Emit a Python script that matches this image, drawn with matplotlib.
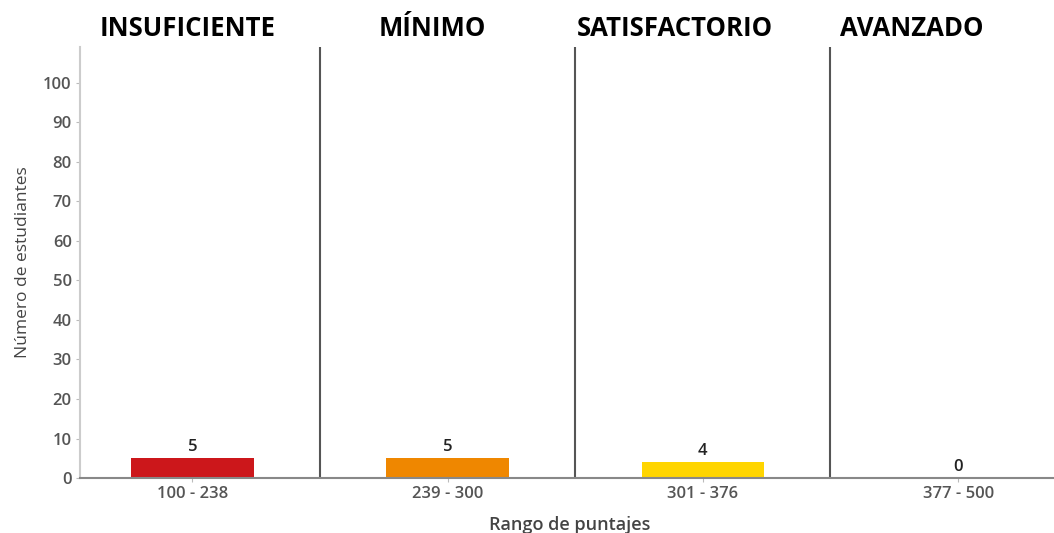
import numpy as np
import matplotlib.pyplot as plt

niveles = ['INSUFICIENTE', 'MÍNIMO', 'SATISFACTORIO', 'AVANZADO']
rangos = ['100 - 238', '239 - 300', '301 - 376', '377 - 500']
estudiantes = [5, 5, 4, 0]
colores = ['#cc171b', '#ef8700', '#ffd500', '#ffd500']

plt.rcParams['font.family'] = ['Open Sans', 'DejaVu Sans']

fig = plt.figure(figsize=(10.54, 5.33), dpi=100)
ax = fig.add_axes([0.0759, 0.103, 0.93, 0.809])

x = np.arange(len(rangos))
ax.bar(x, estudiantes, width=0.48, color=colores)

for i, v in enumerate(estudiantes):
    ax.text(i, v + 0.8, str(v), ha='center', va='bottom', fontsize=12,
            fontweight='semibold', color='#222222')

# separadores entre niveles
for b in x[:-1] + 0.5:
    ax.axvline(b, color='#555555', lw=1.5)

# titulos de nivel
title_pos = [-0.02, 0.94, 1.89, 2.82]
for t, p in zip(niveles, title_pos):
    ax.text(p, 1.012, t, transform=ax.get_xaxis_transform(), ha='center', va='bottom',
            fontsize=18.5, fontweight='bold', color='black')

ax.set_xlim(-0.44, 3.40)
ax.set_ylim(0, 109)
ax.set_yticks(np.arange(0, 101, 10))
ax.set_xticks(x)
ax.set_xticklabels(rangos)
ax.tick_params(axis='both', colors='#bbbbbb', labelcolor='#555555', labelsize=12, length=3, pad=3)
for lab in ax.get_xticklabels() + ax.get_yticklabels():
    lab.set_fontweight('semibold')

for s in ['top', 'right']:
    ax.spines[s].set_visible(False)
ax.spines['left'].set_color('#cccccc')
ax.spines['bottom'].set_color('#888888')
ax.spines['left'].set_linewidth(1.5)
ax.spines['bottom'].set_linewidth(1.5)

ax.set_ylabel('Número de estudiantes', fontsize=12.5, color='#444444', labelpad=9)
ax.set_xlabel('Rango de puntajes', fontsize=13, fontweight='semibold', color='#444444', labelpad=10)

fig.savefig('out.png', dpi=100)
